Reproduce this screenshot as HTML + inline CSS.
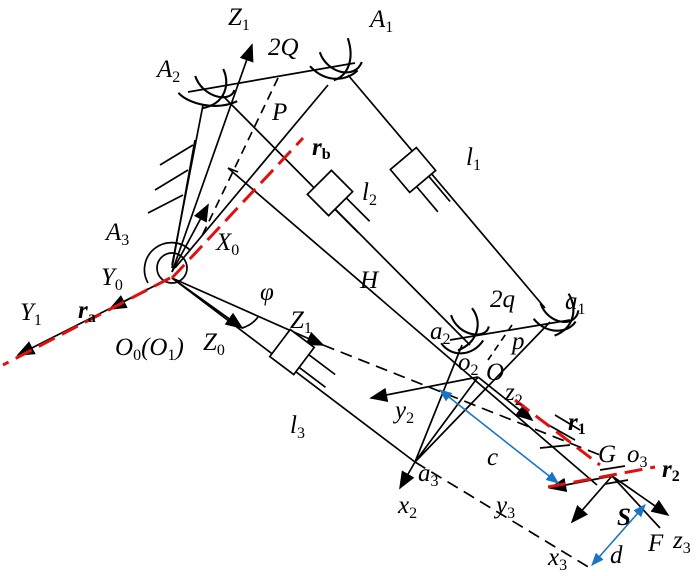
<!DOCTYPE html>
<html><head><meta charset="utf-8"><style>
html,body{margin:0;padding:0;background:#fff;width:700px;height:576px;overflow:hidden}
svg{display:block}
text{font-family:"Liberation Serif",serif;font-style:italic;font-size:25px;fill:#000}
.s{font-size:16px}
</style></head><body>
<svg width="700" height="576" viewBox="0 0 700 576" xmlns="http://www.w3.org/2000/svg">
<defs>
<marker id="arL" viewBox="0 0 10 10" refX="9" refY="5" markerWidth="18" markerHeight="18" orient="auto" markerUnits="userSpaceOnUse"><path d="M0,1L10,5L0,9z" fill="#000"/></marker>
<marker id="bl" viewBox="0 0 10 10" refX="9" refY="5" markerWidth="13" markerHeight="13" orient="auto-start-reverse" markerUnits="userSpaceOnUse"><path d="M0,1L10,5L0,9z" fill="#1a74c4"/></marker>
</defs>
<g stroke="#000" stroke-width="1.7" fill="none">
<line x1="188" y1="92" x2="355" y2="63"/>
<line x1="195" y1="140" x2="172" y2="268"/>
<line x1="193" y1="145" x2="160" y2="165"/>
<line x1="188" y1="170" x2="155" y2="190"/>
<line x1="183" y1="195" x2="148" y2="213"/>
<line x1="203" y1="105" x2="172" y2="265"/>
<line x1="328" y1="85" x2="175" y2="268"/>
<line x1="278" y1="78" x2="200" y2="240" stroke-dasharray="9,6"/>
<line x1="172" y1="272" x2="252" y2="45" marker-end="url(#arL)"/>
<line x1="172" y1="272" x2="208" y2="205" marker-end="url(#arL)"/>
<circle cx="172" cy="268" r="15"/>
<path d="M148,283 A27,27 0 0 1 190,250"/>
<line x1="222" y1="95" x2="470" y2="345"/>
<line x1="228" y1="168" x2="238" y2="172"/>
<line x1="228" y1="168" x2="597" y2="485"/>
<line x1="348" y1="75" x2="545" y2="308"/>
<line x1="172" y1="278" x2="415" y2="462"/>
<line x1="172" y1="278" x2="242" y2="328" marker-end="url(#arL)"/>
<line x1="172" y1="278" x2="323" y2="345" marker-end="url(#arL)"/>
<line x1="323" y1="345" x2="600" y2="455" stroke-dasharray="12,7"/>
<line x1="415" y1="462" x2="590" y2="568" stroke-dasharray="12,7"/>
<path d="M242,328 A30,30 0 0 0 258,317"/>
<line x1="170" y1="278" x2="18" y2="355" marker-end="url(#arL)"/>
<line x1="148" y1="289" x2="110" y2="309" marker-end="url(#arL)"/>
<line x1="450" y1="340" x2="570" y2="320"/>
<line x1="550" y1="322" x2="415" y2="462"/>
<line x1="462" y1="345" x2="415" y2="462"/>
<line x1="478" y1="377" x2="415" y2="462"/>
<line x1="512" y1="325" x2="488" y2="360" stroke-dasharray="7,5"/>
<line x1="478" y1="377" x2="371" y2="398" marker-end="url(#arL)"/>
<line x1="478" y1="377" x2="532" y2="420" marker-end="url(#arL)"/>
<line x1="415" y1="462" x2="400" y2="488" marker-end="url(#arL)"/>
<line x1="612" y1="476" x2="550" y2="488" marker-end="url(#arL)"/>
<line x1="612" y1="476" x2="668" y2="515" marker-end="url(#arL)"/>
<line x1="612" y1="476" x2="572" y2="522" marker-end="url(#arL)"/>
<line x1="612" y1="476" x2="660" y2="528"/>
<line x1="545" y1="423" x2="575" y2="440"/>
<line x1="555" y1="415" x2="580" y2="430"/>
<line x1="540" y1="448" x2="570" y2="445"/>
<line x1="600" y1="470" x2="625" y2="466"/>
<line x1="605" y1="484" x2="628" y2="480"/>
</g>
<g stroke="#000" stroke-width="1.5" fill="none">
<g transform="translate(212,90) scale(1.4) translate(-212,-90)"><path d="M200,80 C205,95 225,100 228,90"/><path d="M188,92 C195,100 215,105 230,98"/><path d="M220,75 C225,85 222,100 205,103"/></g>
<g transform="translate(338,62) scale(1.4) translate(-338,-62)"><path d="M325,55 C330,70 350,75 355,62"/><path d="M318,65 C330,78 345,75 352,68"/><path d="M345,45 C350,60 345,72 335,75"/></g>
<g transform="translate(465,332) scale(1.4) translate(-465,-332)"><path d="M455,320 C460,335 480,338 482,328"/><path d="M448,340 C455,350 470,350 478,338"/><path d="M470,315 C478,325 474,340 460,345"/></g>
<g transform="translate(556,316) scale(1.4) translate(-556,-316)"><path d="M545,307 C550,322 570,325 572,312"/><path d="M540,318 C550,330 565,328 570,320"/><path d="M565,300 C572,312 568,325 555,330"/></g>
</g>
<g stroke="#000" stroke-width="1.7" fill="#fff">
<g transform="translate(413,170) rotate(49.8)"><rect x="-15" y="-17" width="30" height="34"/><line x1="15" y1="-8" x2="48" y2="-8"/><line x1="15" y1="8" x2="48" y2="8"/></g>
<g transform="translate(330,193) rotate(45)"><rect x="-15" y="-17" width="30" height="34"/><line x1="15" y1="-8" x2="48" y2="-8"/><line x1="15" y1="8" x2="48" y2="8"/></g>
<g transform="translate(292,352) rotate(37)"><rect x="-15" y="-17" width="30" height="34"/><line x1="15" y1="-8" x2="48" y2="-8"/><line x1="15" y1="8" x2="48" y2="8"/></g>
</g>
<g stroke="#e01010" stroke-width="3" fill="none" stroke-dasharray="18,8">
<line x1="172" y1="278" x2="303" y2="138"/>
<line x1="170" y1="278" x2="3" y2="365"/>
<line x1="515" y1="400" x2="600" y2="465"/>
<line x1="548" y1="487" x2="655" y2="467"/>
</g>
<line x1="440" y1="390" x2="558" y2="483" stroke="#1a74c4" stroke-width="1.6" marker-start="url(#bl)" marker-end="url(#bl)"/>
<line x1="592" y1="565" x2="645" y2="505" stroke="#1a74c4" stroke-width="1.6" marker-start="url(#bl)" marker-end="url(#bl)"/>
<text x="228" y="25">Z<tspan class="s" dy="5" font-style="normal">1</tspan></text>
<text x="268" y="55">2Q</text>
<text x="370" y="27">A<tspan class="s" dy="5" font-style="normal">1</tspan></text>
<text x="157" y="77">A<tspan class="s" dy="5" font-style="normal">2</tspan></text>
<text x="272" y="120">P</text>
<text x="312" y="155" font-weight="bold">r<tspan class="s" dy="4" font-style="normal">b</tspan></text>
<text x="466" y="165">l<tspan class="s" dy="5" font-style="normal">1</tspan></text>
<text x="362" y="200">l<tspan class="s" dy="5" font-style="normal">2</tspan></text>
<text x="106" y="240">A<tspan class="s" dy="5" font-style="normal">3</tspan></text>
<text x="216" y="250">X<tspan class="s" dy="5" font-style="normal">0</tspan></text>
<text x="101" y="285">Y<tspan class="s" dy="5" font-style="normal">0</tspan></text>
<text x="20" y="320">Y<tspan class="s" dy="5" font-style="normal">1</tspan></text>
<text x="78" y="318" font-weight="bold">r<tspan class="s" dy="4" font-style="normal">a</tspan></text>
<text x="260" y="300">φ</text>
<text x="290" y="328">Z<tspan class="s" dy="5" font-style="normal">1</tspan></text>
<text x="203" y="350">Z<tspan class="s" dy="5" font-style="normal">0</tspan></text>
<text x="115" y="355">O<tspan class="s" dy="5" font-style="normal">0</tspan><tspan dy="-5">(O</tspan><tspan class="s" dy="5" font-style="normal">1</tspan><tspan dy="-5">)</tspan></text>
<text x="290" y="433">l<tspan class="s" dy="5" font-style="normal">3</tspan></text>
<text x="360" y="288">H</text>
<text x="490" y="307">2q</text>
<text x="565" y="309">a<tspan class="s" dy="5" font-style="normal">1</tspan></text>
<text x="430" y="339">a<tspan class="s" dy="5" font-style="normal">2</tspan></text>
<text x="512" y="349">p</text>
<text x="458" y="370">o<tspan class="s" dy="5" font-style="normal">2</tspan></text>
<text x="486" y="380">O</text>
<text x="395" y="418">y<tspan class="s" dy="5" font-style="normal">2</tspan></text>
<text x="505" y="400">z<tspan class="s" dy="5" font-style="normal">2</tspan></text>
<text x="568" y="430" font-weight="bold">r<tspan class="s" dy="4" font-style="normal">1</tspan></text>
<text x="487" y="465">c</text>
<text x="418" y="481">a<tspan class="s" dy="5" font-style="normal">3</tspan></text>
<text x="398" y="513">x<tspan class="s" dy="5" font-style="normal">2</tspan></text>
<text x="496" y="513">y<tspan class="s" dy="5" font-style="normal">3</tspan></text>
<text x="598" y="462" font-style="normal">G</text>
<text x="627" y="462">o<tspan class="s" dy="5" font-style="normal">3</tspan></text>
<text x="662" y="477" font-weight="bold">r<tspan class="s" dy="4" font-style="normal">2</tspan></text>
<text x="617" y="525" font-weight="bold">S</text>
<text x="648" y="551">F</text>
<text x="673" y="548">z<tspan class="s" dy="5" font-style="normal">3</tspan></text>
<text x="548" y="565">x<tspan class="s" dy="5" font-style="normal">3</tspan></text>
<text x="610" y="563">d</text>
</svg>
</body></html>
